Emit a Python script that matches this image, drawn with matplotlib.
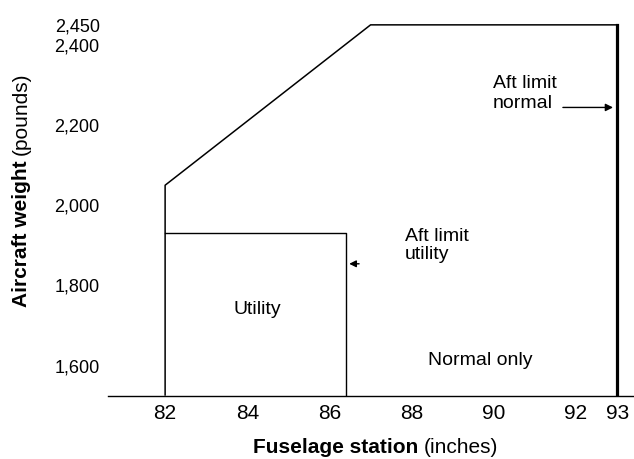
import matplotlib.pyplot as plt

plt.rcParams['font.family'] = ['Liberation Sans', 'DejaVu Sans']

# loading envelope, fuselage station (inches) vs aircraft weight (pounds)
weight_floor = 1525
normal_station = [82, 82, 87, 93]
normal_weight = [weight_floor, 2050, 2450, 2450]
aft_limit_normal = 93
utility_station = [82, 86.4, 86.4]
utility_weight = [1930, 1930, weight_floor]

x_ticks = [82, 84, 86, 88, 90, 92, 93]
y_ticks = [1600, 1800, 2000, 2200, 2400, 2450]
y_labels = ["{:,}".format(v) for v in y_ticks]

fig = plt.figure(figsize=(6.34, 4.59), dpi=100)
ax = fig.add_axes([108 / 634, 63.3 / 459, 526 / 634, 395.7 / 459])

ax.plot(normal_station, normal_weight, color="black", lw=1.1, solid_capstyle="butt")
ax.plot([aft_limit_normal, aft_limit_normal], [weight_floor, normal_weight[-1]], color="black", lw=2.3)
ax.plot(utility_station, utility_weight, color="black", lw=1.0)

# labels inside the chart
ax.text(89.98, 2279, "Aft limit\nnormal", fontsize=14, ha="left", va="center")
ax.annotate("", xy=(92.9, 2244), xytext=(91.68, 2244),
            arrowprops=dict(arrowstyle="-|>", color="black", lw=1.0, mutation_scale=11, shrinkA=0, shrinkB=0))
ax.text(87.84, 1900, "Aft limit\nutility", fontsize=14, ha="left", va="center", linespacing=1.1)
ax.annotate("", xy=(86.48, 1854), xytext=(86.72, 1854),
            arrowprops=dict(arrowstyle="-|>", color="black", lw=1.0, mutation_scale=10, shrinkA=0, shrinkB=0))
ax.text(84.24, 1741, "Utility", fontsize=14, ha="center", va="center")
ax.text(89.66, 1614, "Normal only", fontsize=14, ha="center", va="center")

ax.set_xlim(80.61, 93.41)
ax.set_ylim(weight_floor, 2512)
ax.set_xticks(x_ticks)
ax.set_xticklabels([str(v) for v in x_ticks], fontsize=15)
ax.set_yticks(y_ticks)
ax.set_yticklabels(y_labels, fontsize=13)
ax.tick_params(axis="both", length=0)
ax.tick_params(axis="x", pad=6)
ax.tick_params(axis="y", pad=6)
for side in ["top", "right", "left"]:
    ax.spines[side].set_visible(False)
ax.spines["bottom"].set_linewidth(1.0)

# axis titles, bold part followed by regular unit
xl = fig.text(253 / 634, 6 / 459, "Fuselage station", fontsize=15, fontweight="bold", va="baseline")
fig.canvas.draw()
ax.annotate("(inches)", xy=(1, 0), xycoords=xl, xytext=(4, 0), textcoords="offset points",
            fontsize=15, va="bottom", ha="left", annotation_clip=False)
yl = fig.text(27 / 634, (459 - 307) / 459, "Aircraft weight", fontsize=15, fontweight="bold",
              rotation=90, rotation_mode="anchor", ha="left", va="baseline")
ax.annotate("(pounds)", xy=(1, 1), xycoords=yl, xytext=(0, 4), textcoords="offset points",
            fontsize=15, rotation=90, rotation_mode="anchor", ha="left", va="bottom", annotation_clip=False)

fig.savefig("out.png", dpi=100)
